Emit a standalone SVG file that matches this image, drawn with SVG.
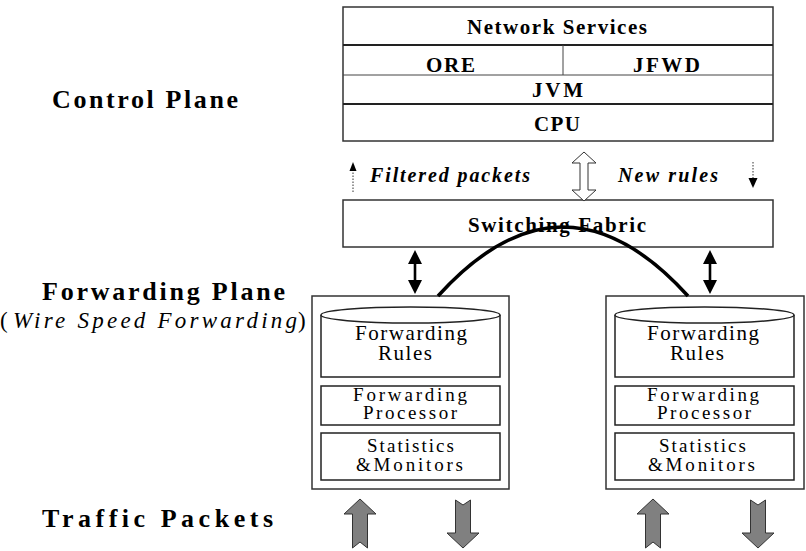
<svg xmlns="http://www.w3.org/2000/svg" width="806" height="551" viewBox="0 0 806 551">
<style>
text{font-family:"Liberation Serif","Times New Roman",serif;fill:#000}
.b{font-weight:bold}
.i{font-style:italic}
.lbl{font-size:26px;font-weight:bold}
.top{font-size:21px;font-weight:bold}
.bx{font-size:21px}
.sm{font-size:19px}
.box{fill:#fff;stroke:#333;stroke-width:1.5}
.in{fill:#fff;stroke:#222;stroke-width:1.5}
.gray{fill:#808080;stroke:#333;stroke-width:1}
</style>
<rect width="806" height="551" fill="#fff"/>

<text class="lbl" x="52" y="108" textLength="186" lengthAdjust="spacing">Control Plane</text>
<text class="lbl" x="42" y="300" textLength="243" lengthAdjust="spacing">Forwarding Plane</text>
<text x="0" y="328" style="font-size:23px">(</text>
<text class="i" x="13" y="328" style="font-size:23px" textLength="284" lengthAdjust="spacing">Wire Speed Forwarding</text>
<text x="298" y="328" style="font-size:23px">)</text>
<text class="lbl" x="42" y="527" textLength="231" lengthAdjust="spacing">Traffic Packets</text>

<g id="control-stack">
<rect class="box" x="343" y="7" width="430" height="134"/>
<line x1="343" y1="45" x2="773" y2="45" stroke="#222" stroke-width="2"/>
<line x1="343" y1="75" x2="773" y2="75" stroke="#444" stroke-width="1"/>
<line x1="343" y1="104" x2="773" y2="104" stroke="#222" stroke-width="2"/>
<line x1="563" y1="45" x2="563" y2="75" stroke="#444" stroke-width="1"/>
<text class="top" x="467" y="34" textLength="180" lengthAdjust="spacing">Network Services</text>
<text class="top" x="426" y="72" textLength="49" lengthAdjust="spacing">ORE</text>
<text class="top" x="633" y="72" textLength="67" lengthAdjust="spacing">JFWD</text>
<text class="top" x="532" y="97" textLength="51" lengthAdjust="spacing">JVM</text>
<text class="top" x="534" y="131" textLength="46" lengthAdjust="spacing">CPU</text>
</g>

<g id="switching-fabric">
<rect class="box" x="343" y="200" width="430" height="47"/>
<text class="top" x="468" y="232" textLength="178" lengthAdjust="spacing">Switching Fabric</text>
</g>

<g id="fwd-left">
<rect class="box" x="312" y="296" width="197" height="193"/>
<path class="in" d="M321,315 L321,377 L500,377 L500,315"/>
<ellipse class="in" cx="410.5" cy="315" rx="89.5" ry="8"/>
<text class="bx" x="355" y="340" textLength="112" lengthAdjust="spacing">Forwarding</text>
<text class="bx" x="378" y="360" textLength="54" lengthAdjust="spacing">Rules</text>
<rect class="in" x="321" y="386" width="179" height="39"/>
<text class="sm" x="353" y="401" textLength="114" lengthAdjust="spacing">Forwarding</text>
<text class="sm" x="363" y="419" textLength="94" lengthAdjust="spacing">Processor</text>
<rect class="in" x="321" y="433" width="179" height="47"/>
<text class="sm" x="367" y="452" textLength="87" lengthAdjust="spacing">Statistics</text>
<text class="sm" x="356" y="471" textLength="107" lengthAdjust="spacing">&amp;Monitors</text>
</g>

<g id="fwd-right" transform="translate(294,0)">
<rect class="box" x="312" y="296" width="198" height="193"/>
<path class="in" d="M321,315 L321,377 L500,377 L500,315"/>
<ellipse class="in" cx="410.5" cy="315" rx="89.5" ry="8"/>
<text class="bx" x="353" y="340" textLength="112" lengthAdjust="spacing">Forwarding</text>
<text class="bx" x="376" y="360" textLength="54" lengthAdjust="spacing">Rules</text>
<rect class="in" x="321" y="386" width="179" height="39"/>
<text class="sm" x="353" y="401" textLength="112" lengthAdjust="spacing">Forwarding</text>
<text class="sm" x="363" y="419" textLength="94" lengthAdjust="spacing">Processor</text>
<rect class="in" x="321" y="433" width="179" height="47"/>
<text class="sm" x="365" y="452" textLength="87" lengthAdjust="spacing">Statistics</text>
<text class="sm" x="354" y="471" textLength="107" lengthAdjust="spacing">&amp;Monitors</text>
</g>

<g id="connectors">
<line x1="353" y1="192" x2="353" y2="170" stroke="#333" stroke-width="1" stroke-dasharray="1.5,1.5"/>
<path d="M353,162 L356.5,171 L349.5,171 Z" fill="#000"/>
<text class="b i" x="370" y="182" style="font-size:20px" textLength="160" lengthAdjust="spacing">Filtered packets</text>
<text class="b i" x="618" y="182" style="font-size:20px" textLength="100" lengthAdjust="spacing">New rules</text>
<line x1="753" y1="162" x2="753" y2="178" stroke="#333" stroke-width="1" stroke-dasharray="1.5,1.5"/>
<path d="M753,188 L757.5,178 L748.5,178 Z" fill="#000"/>
<path d="M584,152 L596,163 L588,163 L588,190 L596,190 L584,201 L572,190 L580,190 L580,163 L572,163 Z" fill="#fff" stroke="#333" stroke-width="1"/>
<path d="M415,250 L422,264 L416.3,264 L416.3,280 L422,280 L415,294 L408,280 L413.7,280 L413.7,264 L408,264 Z" fill="#000"/>
<path d="M710,250 L717,264 L711.3,264 L711.3,280 L717,280 L710,294 L703,280 L708.7,280 L708.7,264 L703,264 Z" fill="#000"/>
<path d="M438,296 Q563,158 688,296" fill="none" stroke="#000" stroke-width="3.5"/>
<path class="gray" d="M360,499 L376,514 L367.5,514 L367.5,548 L360,542 L352.5,548 L352.5,514 L344,514 Z"/>
<path class="gray" d="M455.5,500 L463,505 L470.5,500 L470.5,533 L479,533 L463,548 L447,533 L455.5,533 Z"/>
<path class="gray" d="M653,499 L669,514 L660.5,514 L660.5,548 L653,542 L645.5,548 L645.5,514 L637,514 Z"/>
<path class="gray" d="M750.5,500 L758,505 L765.5,500 L765.5,533 L774,533 L758,548 L742,533 L750.5,533 Z"/>
</g>
</svg>
